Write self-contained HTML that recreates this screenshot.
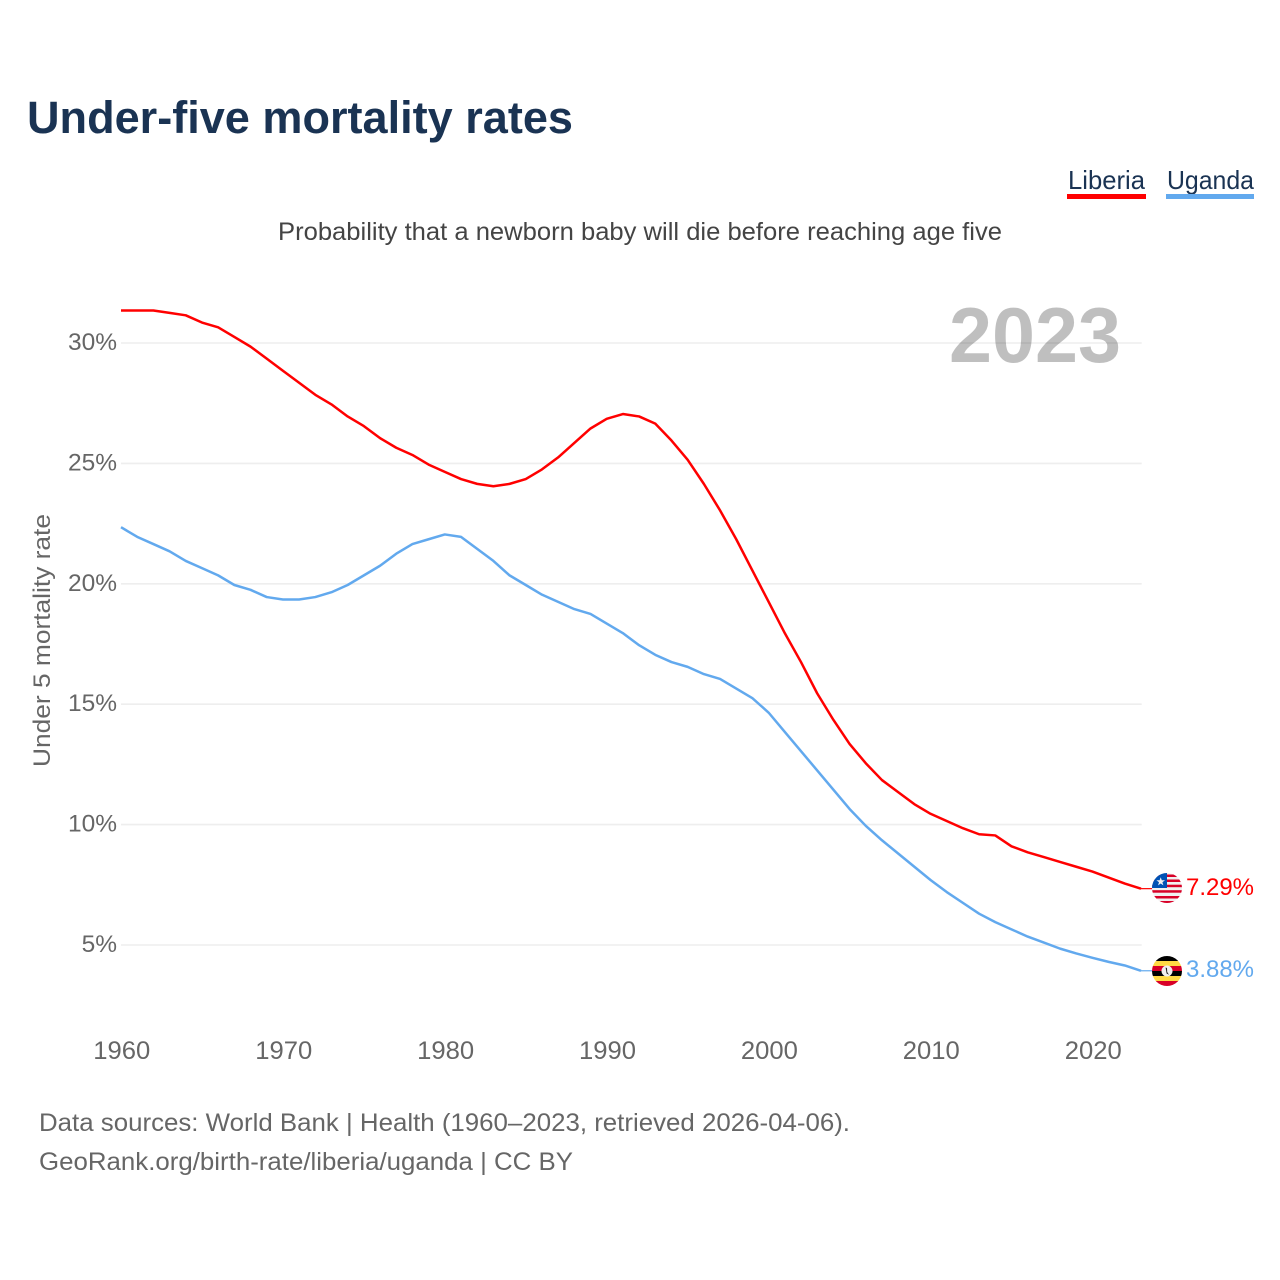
<!DOCTYPE html>
<html lang="en">
<head>
<meta charset="utf-8">
<title>Under-five mortality rates</title>
<style>
html,body{margin:0;padding:0;background:#fff;}
svg{display:block;font-family:"Liberation Sans",sans-serif;}
</style>
</head>
<body>
<svg id="chart" width="1280" height="1280" viewBox="0 0 1280 1280" xmlns="http://www.w3.org/2000/svg">
  <rect width="1280" height="1280" fill="#fff"/>
  <text x="27" y="133" font-size="45" font-weight="bold" fill="#1a3353" textLength="546" lengthAdjust="spacingAndGlyphs">Under-five mortality rates</text>
  <text x="278" y="240" font-size="25" fill="#444" textLength="724" lengthAdjust="spacingAndGlyphs">Probability that a newborn baby will die before reaching age five</text>
  <g>
    <g>
      <text x="1068" y="189" font-size="26" fill="#1a3353" textLength="77" lengthAdjust="spacingAndGlyphs">Liberia</text>
      <rect x="1067" y="194" width="79" height="5" fill="#ff0000"/>
    </g>
    <g>
      <text x="1167" y="189" font-size="26" fill="#1a3353" textLength="87" lengthAdjust="spacingAndGlyphs">Uganda</text>
      <rect x="1166" y="194" width="88" height="5" fill="#62a9ee"/>
    </g>
  </g>
  <g id="grid"></g>
  <text x="949" y="362" font-size="78" font-weight="bold" fill="#000" fill-opacity="0.25" textLength="172" lengthAdjust="spacingAndGlyphs">2023</text>
  <g id="yaxis"></g>
  <g id="xaxis"></g>
  <text transform="translate(50,767) rotate(-90)" font-size="24.5" fill="#666" textLength="253" lengthAdjust="spacingAndGlyphs">Under 5 mortality rate</text>
  <g id="series"></g>

  <defs>
    <clipPath id="flag-clip-l"><circle cx="1167" cy="888" r="15"/></clipPath>
    <clipPath id="flag-clip-u"><circle cx="1167" cy="971" r="15"/></clipPath>
  </defs>
  <g clip-path="url(#flag-clip-l)">
    <rect x="1152" y="873" width="30" height="30" fill="#f0f0f0"/>
    <rect x="1152" y="874.5" width="30" height="2.5" fill="#d80027"/>
    <rect x="1152" y="879.5" width="30" height="2.5" fill="#d80027"/>
    <rect x="1152" y="884.7" width="30" height="2.5" fill="#d80027"/>
    <rect x="1152" y="890.2" width="30" height="2.5" fill="#d80027"/>
    <rect x="1152" y="896" width="30" height="2.5" fill="#d80027"/>
    <rect x="1152" y="901" width="30" height="2.5" fill="#d80027"/>
    <rect x="1152" y="873" width="15" height="15" fill="#0052b4"/>
    <polygon fill="#f0f0f0" points="1160.7,877.2 1161.8,880.3 1165,880.3 1162.4,882.3 1163.4,885.4 1160.7,883.5 1158,885.4 1159,882.3 1156.4,880.3 1159.6,880.3"/>
  </g>
  <g clip-path="url(#flag-clip-u)">
    <rect x="1152" y="956" width="30" height="5" fill="#000"/>
    <rect x="1152" y="961" width="30" height="5" fill="#ffda44"/>
    <rect x="1152" y="966" width="30" height="5" fill="#d80027"/>
    <rect x="1152" y="971" width="30" height="5" fill="#000"/>
    <rect x="1152" y="976" width="30" height="5" fill="#ffda44"/>
    <rect x="1152" y="981" width="30" height="6" fill="#d80027"/>
    <circle cx="1167" cy="971" r="5.5" fill="#f0f0f0"/>
    <path d="M1165.6 967.5 L1167 968 L1167.2 972 L1169 974.8 L1166.6 973.5 L1166 970 Z" fill="#222"/>
  </g>
  <text id="label-l" x="1254" y="895" font-size="24.5" fill="#ff0000" text-anchor="end" textLength="68" lengthAdjust="spacingAndGlyphs"></text>
  <text id="label-u" x="1254" y="977" font-size="24.5" fill="#62a9ee" text-anchor="end" textLength="68" lengthAdjust="spacingAndGlyphs"></text>

  <text x="39" y="1131" font-size="25" fill="#666" textLength="811" lengthAdjust="spacingAndGlyphs">Data sources: World Bank | Health (1960–2023, retrieved 2026-04-06).</text>
  <text x="39" y="1170" font-size="25" fill="#666" textLength="534" lengthAdjust="spacingAndGlyphs">GeoRank.org/birth-rate/liberia/uganda | CC BY</text>
</svg>
<script>
var startYear = 1960;
var liberiaValues = [31.3,31.3,31.3,31.2,31.1,30.8,30.6,30.2,29.8,29.3,28.8,28.3,27.8,27.4,26.9,26.5,26.0,25.6,25.3,24.9,24.6,24.3,24.1,24.0,24.1,24.3,24.7,25.2,25.8,26.4,26.8,27.0,26.9,26.6,25.9,25.1,24.1,23.0,21.8,20.5,19.2,17.9,16.7,15.4,14.3,13.3,12.5,11.8,11.3,10.8,10.4,10.1,9.8,9.55,9.5,9.05,8.8,8.6,8.4,8.2,8.0,7.75,7.5,7.29];
var ugandaValues = [22.3,21.9,21.6,21.3,20.9,20.6,20.3,19.9,19.7,19.4,19.3,19.3,19.4,19.6,19.9,20.3,20.7,21.2,21.6,21.8,22.0,21.9,21.4,20.9,20.3,19.9,19.5,19.2,18.9,18.7,18.3,17.9,17.4,17.0,16.7,16.5,16.2,16.0,15.6,15.2,14.6,13.8,13.0,12.2,11.4,10.6,9.9,9.3,8.75,8.2,7.65,7.15,6.7,6.25,5.9,5.6,5.3,5.05,4.8,4.6,4.42,4.25,4.1,3.88];
var yTickValues = [5,10,15,20,25,30];
var xTickValues = [1960,1970,1980,1990,2000,2010,2020];

var NS = 'http://www.w3.org/2000/svg';
var seriesYOffset = -1.2;
function xScale(year){ return 121 + (year - 1960) * (1020 / 63); }
function yScale(v){ return 945 - (v - 5) * (602 / 25); }
function make(tag, attrs, parent){
  var el = document.createElementNS(NS, tag);
  for (var k in attrs) el.setAttribute(k, attrs[k]);
  parent.appendChild(el);
  return el;
}
var grid = document.getElementById('grid');
var yaxis = document.getElementById('yaxis');
var xaxis = document.getElementById('xaxis');
var series = document.getElementById('series');

yTickValues.forEach(function(v){
  var line = make('line', {x1: xScale(1960), x2: xScale(2023) + 0.7, y1: yScale(v), y2: yScale(v), stroke: '#eeeeee', 'stroke-width': 1.6}, grid);
  
  
  var t = make('text', {x: 117, y: yScale(v) + 7, 'font-size': 24.5, fill: '#666', 'text-anchor': 'end'}, yaxis);
  t.textContent = v + '%';
  
  
});
xTickValues.forEach(function(y){
  var t = make('text', {x: xScale(y) + 0.8, y: 1059, 'font-size': 25, fill: '#666', 'text-anchor': 'middle', textLength: 57, lengthAdjust: 'spacingAndGlyphs'}, xaxis);
  t.textContent = String(y);
  
  
});
function drawSeries(values, color, name){
  var pts = values.map(function(v, i){ return xScale(startYear + i).toFixed(2) + ',' + (yScale(v) + seriesYOffset).toFixed(2); });
  var line = make('polyline', {points: pts.join(' '), fill: 'none', stroke: color, 'stroke-width': 2.5, 'stroke-linejoin': 'round'}, series);
  
  
  var last = values[values.length - 1];
  var endY = yScale(last) + seriesYOffset;
  var stub = make('line', {x1: xScale(startYear + values.length - 1), x2: 1153, y1: endY, y2: endY, stroke: color, 'stroke-width': 1.2}, series);
  
  
}
drawSeries(liberiaValues, '#ff0000', 'line-liberia');
drawSeries(ugandaValues, '#62a9ee', 'line-uganda');
document.getElementById('label-l').textContent = liberiaValues[liberiaValues.length - 1].toFixed(2) + '%';
document.getElementById('label-u').textContent = ugandaValues[ugandaValues.length - 1].toFixed(2) + '%';
</script>
</body>
</html>
